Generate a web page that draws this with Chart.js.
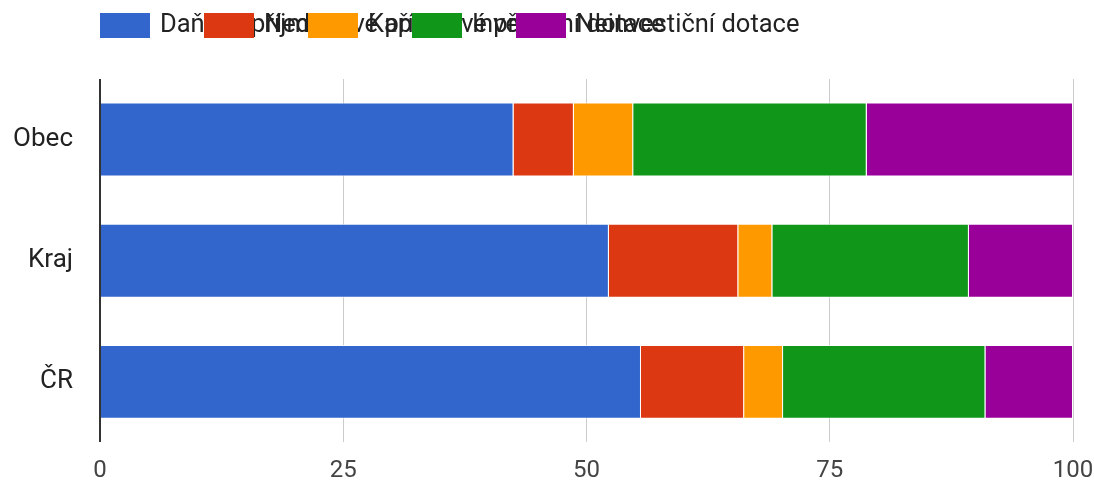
<!DOCTYPE html>
<html lang="cs">
<head>
    <meta charset="UTF-8">
    <title>Struktura příjmů</title>
    <script src="https://cdn.jsdelivr.net/npm/chart.js"></script>
    <style>
        html, body { margin: 0; padding: 0; background: #fff; }
        .chart { width: 1094px; height: 485px; }
    </style>
</head>
<body>
    <div class="chart">
        <canvas id="incomeChart"></canvas>
    </div>

    <script>
        const categories = ['Obec', 'Kraj', 'ČR'];
        const seriesNames = ['Daňové příjmy', 'Nedaňové příjmy', 'Kapitálové příjmy', 'Investiční dotace', 'Neinvestiční dotace'];
        const danove = [42.5, 52.3, 55.6];
        const nedanove = [6.2, 13.3, 10.6];
        const kapitalove = [6.1, 3.5, 4.0];
        const investicni = [24.0, 20.2, 20.8];
        const neinvesticni = [21.2, 10.7, 9.0];
        const xTicks = [0, 25, 50, 75, 100];

        const colors = ['#3366cc', '#dc3912', '#ff9900', '#109618', '#990099'];
        const seriesData = [danove, nedanove, kapitalove, investicni, neinvesticni];

        // legend like the original: items at a fixed step, texts overlap
        const overlapLegend = {
            id: 'overlapLegend',
            afterDraw(chart) {
                const ctx = chart.ctx;
                ctx.save();
                ctx.font = '25.5px Roboto';
                ctx.textBaseline = 'middle';
                ctx.textAlign = 'left';
                chart.data.datasets.forEach((ds, i) => {
                    const x = 100 + i * 104;
                    ctx.fillStyle = ds.backgroundColor;
                    ctx.fillRect(x, 13, 50, 25);
                    ctx.fillStyle = '#222';
                    ctx.fillText(ds.label, x + 60, 26);
                });
                ctx.restore();
            }
        };

        const ctx = document.getElementById('incomeChart').getContext('2d');
        new Chart(ctx, {
            type: 'bar',
            data: {
                labels: categories,
                datasets: seriesNames.map((name, i) => ({
                    label: name,
                    data: seriesData[i],
                    backgroundColor: colors[i],
                    borderColor: 'rgba(255,255,255,0.85)',
                    borderWidth: 1,
                    categoryPercentage: 1,
                    barPercentage: 0.61
                }))
            },
            options: {
                indexAxis: 'y',
                responsive: true,
                maintainAspectRatio: false,
                animation: false,
                layout: { padding: { top: 79, right: 21, left: 0, bottom: 0 } },
                plugins: {
                    legend: { display: false },
                    tooltip: { enabled: false }
                },
                scales: {
                    x: {
                        stacked: true,
                        min: 0,
                        max: 100,
                        afterBuildTicks: axis => { axis.ticks = xTicks.map(v => ({ value: v })); },
                        afterFit: axis => {
                            axis.height = 37;
                            axis.paddingLeft = 0;
                            axis.paddingRight = 0;
                        },
                        border: { display: false },
                        grid: {
                            drawTicks: false,
                            color: c => c.tick && c.tick.value === 0 ? '#333' : '#ccc',
                            lineWidth: c => c.tick && c.tick.value === 0 ? 2 : 1
                        },
                        ticks: {
                            padding: 14,
                            color: '#444',
                            font: { family: 'Roboto', size: 24 }
                        }
                    },
                    y: {
                        stacked: true,
                        afterFit: axis => { axis.width = 100; },
                        border: { display: false },
                        grid: { display: false, drawTicks: false },
                        ticks: {
                            padding: 27,
                            color: '#222',
                            font: { family: 'Roboto', size: 26 }
                        }
                    }
                }
            },
            plugins: [overlapLegend]
        });
    </script>
</body>
</html>
